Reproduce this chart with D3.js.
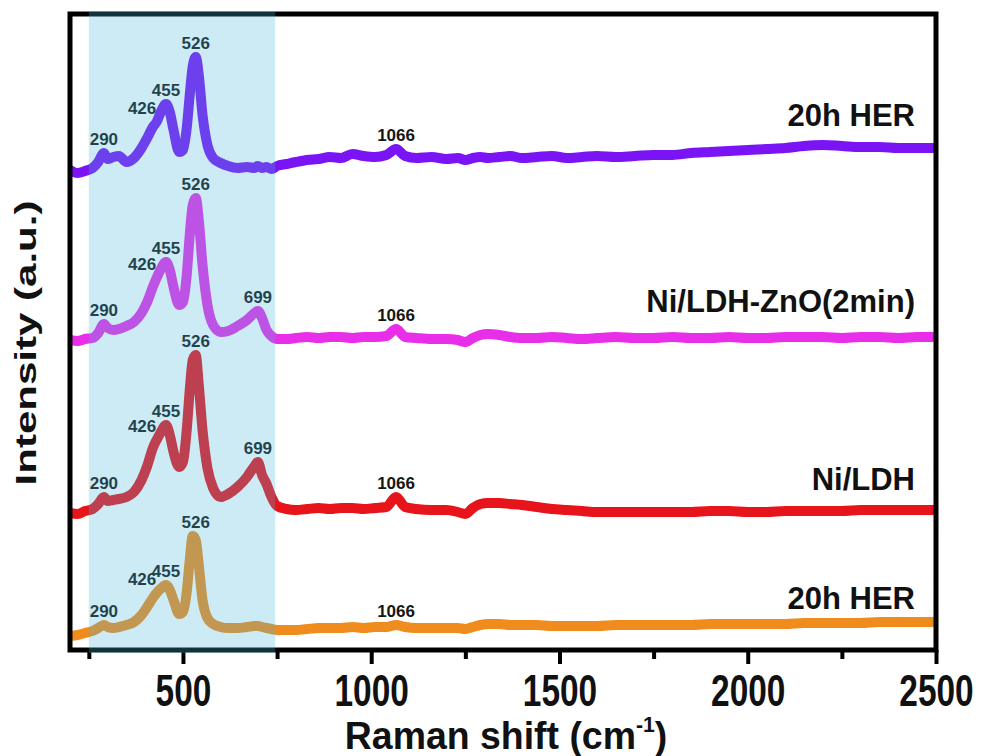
<!DOCTYPE html>
<html>
<head>
<meta charset="utf-8">
<script src="https://cdn.jsdelivr.net/npm/d3@7"></script>
<style>
  html, body { margin: 0; padding: 0; background: #fff; }
  svg { display: block; font-family: "Liberation Sans", Arial, Helvetica, sans-serif; }
</style>
</head>
<body>
<svg id="chart" width="984" height="756"></svg>
<script>
// Raman shift grid (cm^-1) shared by all spectra
const ramanShift = [
  200, 220, 240, 260, 275, 290, 300, 315, 330, 350,
  370, 390, 405, 420, 430, 440, 455, 465, 475, 490,
  500, 510, 518, 526, 534, 542, 552, 565, 580, 600,
  620, 645, 670, 690, 699, 710, 722, 735, 750, 775,
  800, 830, 860, 890, 920, 950, 980, 1010, 1040, 1066,
  1090, 1120, 1160, 1200, 1230, 1250, 1270, 1290, 1310, 1340,
  1370, 1400, 1440, 1480, 1520, 1560, 1600, 1650, 1700, 1750,
  1800, 1850, 1900, 1950, 2000, 2050, 2100, 2150, 2200, 2250,
  2300, 2350, 2400, 2450, 2500
];

// Stacked intensities (a.u., offsets included), top to bottom
const her20hTop = [
  480, 477, 479, 482, 488, 497, 491, 493, 494, 488,
  492, 502, 512, 523, 528, 537, 546, 538, 520, 498,
  500, 522, 555, 584, 593, 575, 535, 505, 492, 487,
  484, 482, 483, 482, 484, 482, 483, 481, 484, 486,
  488, 490, 491, 493, 492, 496, 494, 493, 495, 501,
  494, 492, 493, 491, 492, 490, 492, 493, 492, 493,
  494, 492, 493, 494, 492, 493, 494, 493, 494, 495,
  495, 497, 498, 499, 500, 501, 502, 504, 505, 504,
  503, 503, 502, 502, 502
];
const niLdhZnO = [
  310, 309, 311, 312, 317, 326, 322, 320, 321, 324,
  328, 337, 348, 363, 372, 380, 388, 380, 363, 345,
  348, 375, 415, 445, 452, 430, 385, 345, 325, 318,
  319, 324, 330, 337, 339, 332, 320, 314, 311, 311,
  312, 313, 312, 313, 313, 312, 313, 313, 314, 321,
  313, 312, 311, 311, 310, 308, 312, 315, 316, 315,
  313, 312, 312, 313, 312, 311, 312, 313, 312, 312,
  313, 312, 312, 313, 312, 312, 313, 313, 313, 312,
  313, 313, 312, 313, 313
];
const niLdh = [
  137, 136, 139, 141, 146, 153, 149, 150, 151, 153,
  158, 170, 184, 202, 210, 217, 225, 215, 198, 183,
  188, 220, 260, 290, 295, 265, 220, 182, 162, 153,
  156, 163, 173, 184, 188, 175, 166, 153, 144, 141,
  140, 141, 142, 141, 142, 142, 141, 142, 143, 153,
  143, 141, 140, 140, 138, 136, 142, 146, 147, 147,
  146, 145, 143, 141, 140, 139, 138, 138, 138, 138,
  138, 138, 139, 139, 138, 138, 139, 139, 139, 139,
  140, 140, 140, 140, 140
];
const her20hBottom = [
  14, 15, 17, 19, 22, 25, 23, 22, 23, 25,
  28, 35, 43, 52, 57, 61, 65, 60, 50, 36,
  38, 58, 90, 114, 110, 85, 50, 32, 26, 23,
  22, 22, 23, 24, 24, 23, 22, 21, 20, 20,
  20, 21, 22, 22, 22, 23, 22, 23, 23, 25,
  23, 22, 22, 22, 22, 21, 23, 25, 26, 26,
  25, 25, 25, 24, 24, 24, 24, 25, 25, 25,
  25, 25, 26, 26, 26, 26, 26, 27, 27, 27,
  27, 28, 28, 28, 28
];

const seriesNames = ["20h HER", "Ni/LDH-ZnO(2min)", "Ni/LDH", "20h HER"];
const seriesValues = [her20hTop, niLdhZnO, niLdh, her20hBottom];
const seriesColors = ["#7b14f5", "#e92ee9", "#e8141c", "#f08c1e"];

// Assigned band positions (cm^-1) for each spectrum
const peakLabels = [
  [290, 426, 455, 526, 1066],
  [290, 426, 455, 526, 699, 1066],
  [290, 426, 455, 526, 699, 1066],
  [290, 426, 455, 526, 1066]
];

const xTicks = [500, 1000, 1500, 2000, 2500];
const xMinorTicks = [250, 750, 1250, 1750, 2250];
const shadedBand = [250, 745];

// ---- layout ----
const svg = d3.select("#chart");
const plot = { left: 70, right: 936, top: 14, bottom: 650 };
const nameLift = [22, 25, 20, 13];   // px between each spectrum's tail and its name

const x = d3.scaleLinear().domain([200, 2500]).range([plot.left, plot.right]);
const y = d3.scaleLinear().domain([0, 636]).range([plot.bottom, plot.top]);

svg.append("defs").append("clipPath").attr("id", "plotClip")
  .append("rect")
  .attr("x", plot.left).attr("y", plot.top)
  .attr("width", plot.right - plot.left).attr("height", plot.bottom - plot.top);

// spectra
const line = d3.line()
  .x((d, i) => x(ramanShift[i]))
  .y(d => y(d))
  .curve(d3.curveMonotoneX);

const lines = svg.append("g").attr("clip-path", "url(#plotClip)");
seriesValues.forEach((vals, s) => {
  lines.append("path")
    .datum(vals)
    .attr("d", line)
    .attr("fill", "none")
    .attr("stroke", seriesColors[s])
    .attr("stroke-width", 10)
    .attr("stroke-linejoin", "round")
    .attr("stroke-linecap", "round");
});

// band labels sit just above the local maximum of each spectrum
const labelNudge = { 426: -13, 526: 3 };
seriesValues.forEach((vals, s) => {
  peakLabels[s].forEach(p => {
    let top = -Infinity;
    ramanShift.forEach((r, i) => { if (Math.abs(r - p) <= 10) top = Math.max(top, vals[i]); });
    svg.append("text")
      .attr("x", x(p) + (labelNudge[p] || 0))
      .attr("y", y(top) - 8)
      .attr("text-anchor", "middle")
      .attr("font-size", 17)
      .attr("font-weight", "bold")
      .attr("fill", "#151515")
      .text(p);
  });
});

// spectrum names at the right end
seriesValues.forEach((vals, s) => {
  svg.append("text")
    .attr("x", 915)
    .attr("y", y(vals[vals.length - 1]) - nameLift[s])
    .attr("text-anchor", "end")
    .attr("font-size", 31)
    .attr("font-weight", "bold")
    .attr("fill", "#111")
    .text(seriesNames[s]);
});

// frame
svg.append("rect")
  .attr("x", plot.left).attr("y", plot.top)
  .attr("width", plot.right - plot.left).attr("height", plot.bottom - plot.top)
  .attr("fill", "none").attr("stroke", "#000").attr("stroke-width", 5);

// bottom axis: major and minor ticks
const axisG = svg.append("g").attr("transform", `translate(0,${plot.bottom})`);
const major = axisG.append("g").call(d3.axisBottom(x).tickValues(xTicks).tickSize(14).tickFormat(d3.format("d")));
const minor = axisG.append("g").call(d3.axisBottom(x).tickValues(xMinorTicks).tickSize(9).tickFormat(""));
[major, minor].forEach(g => {
  g.select(".domain").remove();
  g.selectAll(".tick line").attr("stroke", "#000").attr("stroke-width", 4);
});
major.selectAll(".tick text")
  .attr("y", 56).attr("dy", null)
  .attr("font-size", 44)
  .attr("font-weight", "bold")
  .attr("font-family", "'Liberation Sans', Arial, sans-serif")
  .attr("fill", "#111")
  .attr("transform", "scale(0.76,1)");

// axis titles
const xTitle = svg.append("text")
  .attr("transform", "translate(506,749) scale(0.96,1)")
  .attr("text-anchor", "middle")
  .attr("font-size", 39)
  .attr("font-weight", "bold")
  .attr("fill", "#111");
xTitle.append("tspan").text("Raman shift (cm");
xTitle.append("tspan").attr("font-size", 22).attr("dy", -17).text("-1");
xTitle.append("tspan").attr("dy", 17).text(")");

svg.append("text")
  .attr("transform", "translate(36,343) rotate(-90) scale(1.45,1)")
  .attr("text-anchor", "middle")
  .attr("font-size", 29)
  .attr("font-weight", "bold")
  .attr("fill", "#111")
  .text("Intensity (a.u.)");

// translucent highlight over the low-wavenumber bands
svg.append("rect")
  .attr("x", x(shadedBand[0]))
  .attr("y", plot.top - 3)
  .attr("width", x(shadedBand[1]) - x(shadedBand[0]))
  .attr("height", plot.bottom - plot.top + 6)
  .attr("fill", "#49b6da")
  .attr("fill-opacity", 0.275);
</script>
</body>
</html>
